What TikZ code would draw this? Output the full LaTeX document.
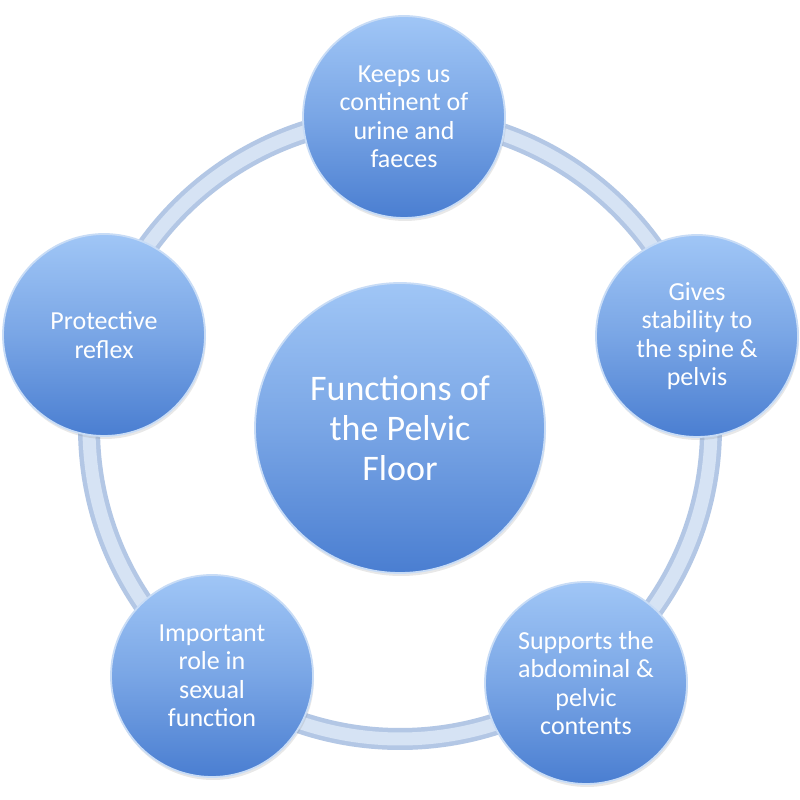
\documentclass[tikz,border=0pt]{standalone}
\usepackage{fontspec}
\setmainfont{Carlito}
\usetikzlibrary{shadows}
\definecolor{topblue}{HTML}{A0C6F6}
\definecolor{botblue}{HTML}{4A7ED1}
\definecolor{rimblue}{HTML}{C8DCF6}
\definecolor{ringout}{HTML}{B3C7E5}
\definecolor{ringin}{HTML}{D6E3F4}
\tikzset{
  bubble/.style={circle, align=center, text=white, inner sep=0pt,
    top color=topblue, bottom color=botblue, middle color=topblue!55!botblue,
    draw=rimblue, line width=1.8pt,
    drop shadow={opacity=0.18, shadow xshift=1pt, shadow yshift=-3pt},
    font=\fontsize{26}{28.5}\selectfont, minimum size=202pt},
  hub/.style={bubble, minimum size=290pt, font=\fontsize{36}{40}\selectfont}
}
\begin{document}
\begin{tikzpicture}[x=1pt,y=1pt]
\useasboundingbox (0,0) rectangle (800,800);
\fill[white] (0,0) rectangle (800,800);
\coordinate (c) at (400,372);
\draw[ringout, line width=22pt] (c) circle (311);
\draw[ringin, line width=13pt] (c) circle (311);
\node[hub] (hub) at (c) {Functions of\\the Pelvic\\Floor};
\node[bubble] (top) at (404,683) {Keeps us\\continent of\\urine and\\faeces};
\node[bubble] (right) at (697,464) {Gives\\stability to\\the spine \&\\pelvis};
\node[bubble] (br) at (586,117) {Supports the\\abdominal \&\\pelvic\\contents};
\node[bubble] (bl) at (212,124) {Important\\role in\\sexual\\function};
\node[bubble] (left) at (104,465) {Protective\\reflex};
\end{tikzpicture}
\end{document}
